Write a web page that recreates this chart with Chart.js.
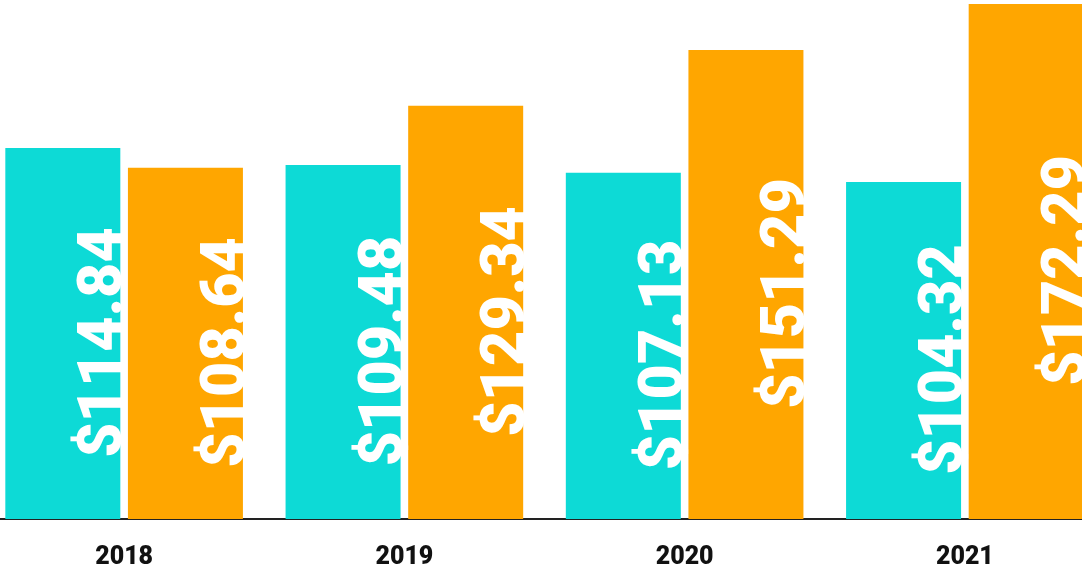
<!DOCTYPE html>
<html lang="en">
<head>
    <meta charset="UTF-8">
    <script src="https://cdn.jsdelivr.net/npm/chart.js@4.4.0/dist/chart.umd.min.js"></script>
    <title>Chart</title>
    <style>
        html, body {margin: 0; padding: 0; background: #fff; overflow: hidden; height: 570px;}
        #wrap {position: absolute; left: -16px; top: 0; width: 1121px; height: 592px;}
    </style>
</head>
<body>
    <div id="wrap">
        <canvas id="chart"></canvas>
    </div>

    <script>
    const years = ['2018', '2019', '2020', '2021'];
    const cyanValues = [114.84, 109.48, 107.13, 104.32];
    const orangeValues = [108.64, 129.34, 151.29, 172.29];

    // white value labels, rotated, sitting against the right edge of each bar
    const barLabels = {
        id: 'barLabels',
        afterDatasetsDraw(chart) {
            const ctx = chart.ctx;
            ctx.save();
            ctx.fillStyle = '#ffffff';
            ctx.font = '900 61px Roboto';
            ctx.textAlign = 'center';
            ctx.textBaseline = 'alphabetic';
            chart.data.datasets.forEach((ds, i) => {
                chart.getDatasetMeta(i).data.forEach((bar, j) => {
                    const p = bar.getProps(['x', 'y', 'base', 'width'], true);
                    ctx.save();
                    ctx.translate(p.x + p.width / 2 + 1, (p.y + p.base) / 2 + 9);
                    ctx.rotate(-Math.PI / 2);
                    ctx.fillText('$' + ds.data[j].toFixed(2), 0, 0);
                    ctx.restore();
                });
            });
            ctx.restore();
        }
    };

    const ctx = document.getElementById('chart').getContext('2d');
    const myChart = new Chart(ctx, {
        type: 'bar',
        data: {
            labels: years,
            datasets: [{
                data: cyanValues,
                backgroundColor: '#0ddad6',
                categoryPercentage: 0.875,
                barPercentage: 0.938
            }, {
                data: orangeValues,
                backgroundColor: '#ffa600',
                categoryPercentage: 0.875,
                barPercentage: 0.938
            }]
        },
        options: {
            responsive: true,
            maintainAspectRatio: false,
            animation: false,
            layout: {padding: {top: 0, left: 0, right: 0, bottom: 3}},
            plugins: {
                legend: {display: false},
                tooltip: {enabled: false}
            },
            scales: {
                x: {
                    grid: {display: false},
                    border: {display: true, color: '#222222', width: 2},
                    ticks: {
                        color: '#111111',
                        padding: 16,
                        font: {family: 'Roboto', size: 25, weight: '900'}
                    }
                },
                y: {
                    type: 'logarithmic',
                    display: false,
                    min: 40.4,
                    max: 174.2
                }
            }
        },
        plugins: [barLabels]
    });
    </script>
</body>
</html>
